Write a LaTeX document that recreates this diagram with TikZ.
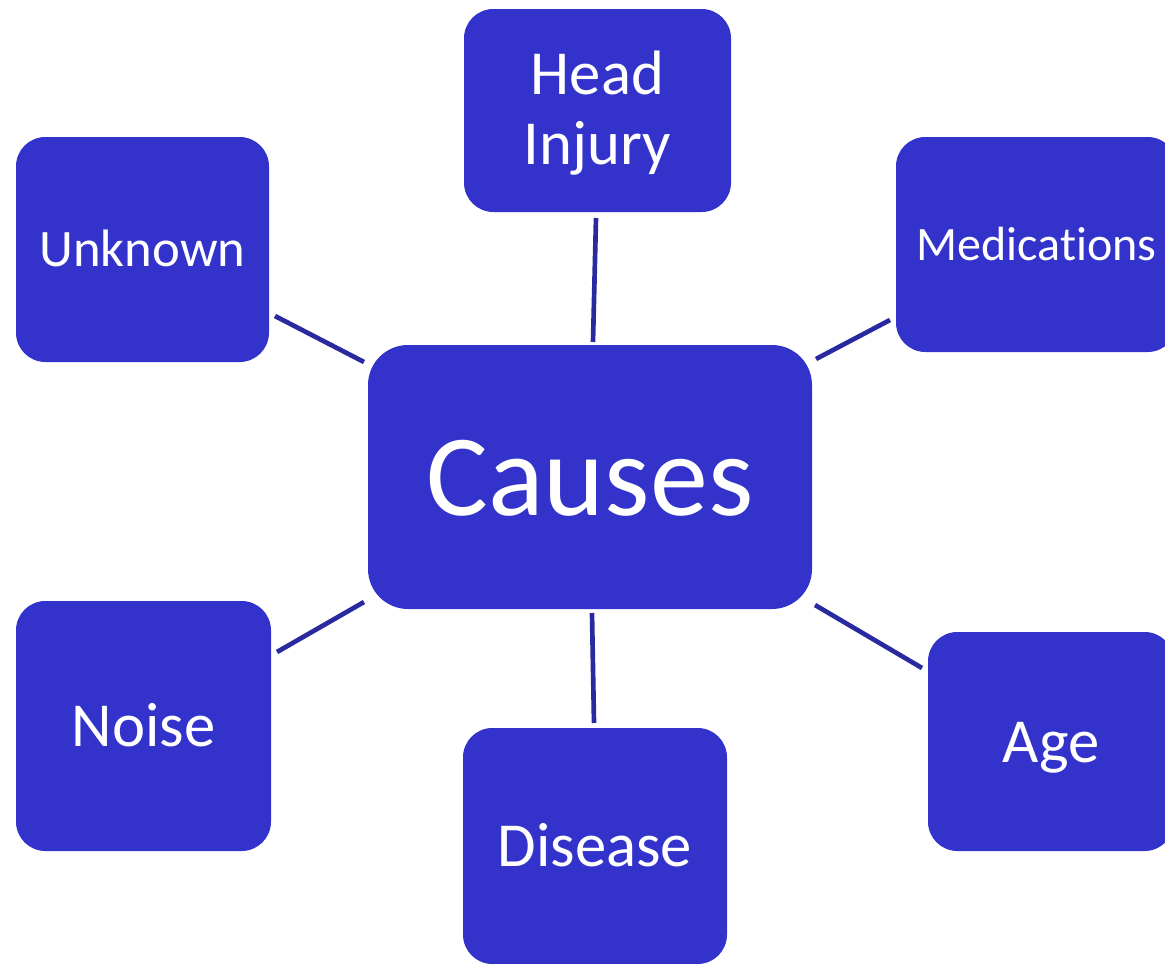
\documentclass[tikz,border=0pt]{standalone}
\usepackage{fontspec}
\setmainfont{Carlito}[Ligatures=NoCommon]
\definecolor{boxblue}{RGB}{51,51,204}
\definecolor{lineblue}{RGB}{42,42,160}
\begin{document}
\begin{tikzpicture}[x=0.75pt,y=-0.75pt,
  box/.style={fill=boxblue,draw=none,rounded corners=22pt,inner sep=0pt,
    text=white,align=center,text depth=0pt},
  link/.style={draw=lineblue,line width=3.5pt}]
\useasboundingbox (0,0) rectangle (1165,964);
\clip (0,0) rectangle (1165,964);
% boxes
\node[box,minimum width=333pt,minimum height=198pt,rounded corners=30pt,
  text height=57.4pt,font=\fontsize{87}{100}\selectfont] (causes) at (590,477) {Causes};
\node[box,minimum width=200.25pt,minimum height=152.25pt,
  text height=80.5pt,font=\fontsize{47}{52.5}\selectfont] (head) at (597.5,110.5) {Head\\Injury};
\node[box,minimum width=189.75pt,minimum height=168.75pt,
  text height=26pt,font=\fontsize{39.5}{45}\selectfont] (unk) at (142.5,249.5) {Unknown};
\node[box,minimum width=210.75pt,minimum height=161.25pt,
  text height=23.8pt,font=\fontsize{36}{41}\selectfont] (med) at (1036.5,244.5) {Medications};
\node[box,minimum width=191.25pt,minimum height=187.5pt,
  text height=31pt,font=\fontsize{47}{52.5}\selectfont] (noise) at (143.5,726) {Noise};
\node[box,minimum width=198pt,minimum height=177pt,
  text height=31pt,font=\fontsize{47}{52.5}\selectfont] (dis) at (595,846) {Disease};
\node[box,minimum width=184.5pt,minimum height=164.25pt,
  text height=31pt,font=\fontsize{47}{52.5}\selectfont] (age) at (1051,741.5) {Age};
% connector end points
\coordinate (h1) at (596,218);  \coordinate (h2) at (593,342);
\coordinate (u1) at (275,316);  \coordinate (u2) at (364,362);
\coordinate (m1) at (890,320);  \coordinate (m2) at (816,359);
\coordinate (n1) at (277,652);  \coordinate (n2) at (364,602);
\coordinate (d1) at (594,723);  \coordinate (d2) at (592,613);
\coordinate (a1) at (922,668);  \coordinate (a2) at (815,605);
\draw[link] (h1) -- (h2);
\draw[link] (u1) -- (u2);
\draw[link] (m1) -- (m2);
\draw[link] (n1) -- (n2);
\draw[link] (d1) -- (d2);
\draw[link] (a1) -- (a2);
\end{tikzpicture}
\end{document}
